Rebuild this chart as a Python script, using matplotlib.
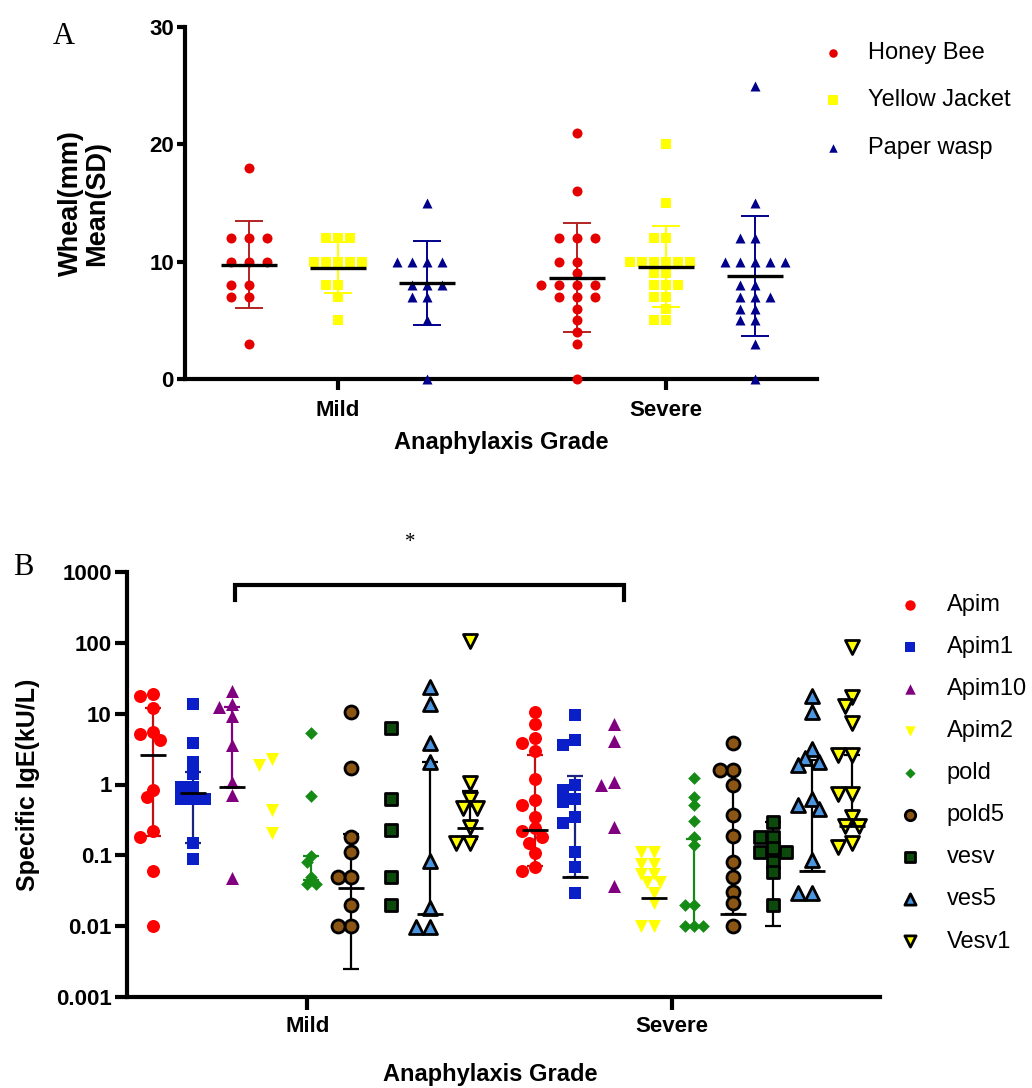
import numpy as np
import matplotlib
matplotlib.use('Agg')
import matplotlib.pyplot as plt

plt.rcParams['font.family'] = ['Liberation Sans', 'DejaVu Sans']

# ---------- panel A : wheal size ----------
grade = ['Mild', 'Severe']
insects = ['Honey Bee', 'Yellow Jacket', 'Paper wasp']
hb_mild = [18, 12, 12, 12, 10, 10, 10, 8, 8, 7, 7, 3]
yj_mild = [12, 12, 12, 10, 10, 10, 10, 10, 8, 8, 7, 5]
pw_mild = [15, 10, 10, 10, 10, 8, 8, 8, 7, 7, 5, 0]
hb_sev = [21, 16, 12, 12, 12, 10, 10, 9, 8, 8, 8, 8, 7, 7, 7, 6, 5, 4, 3, 0]
yj_sev = [20, 15, 12, 12, 10, 10, 10, 10, 10, 10, 9, 9, 8, 8, 8, 7, 7, 6, 5, 5]
pw_sev = [25, 15, 12, 12, 10, 10, 10, 10, 10, 8, 8, 7, 7, 7, 6, 6, 5, 5, 3, 0]

# ---------- panel B : specific IgE ----------
allergens = ['Apim', 'Apim1', 'Apim10', 'Apim2', 'pold', 'pold5', 'vesv', 'ves5', 'Vesv1']
ige_mild = [
    [19, 18, 12, 5.5, 5.2, 4.3, 0.84, 0.66, 0.22, 0.18, 0.06, 0.01],
    [13.6, 3.8, 2.1, 1.4, 0.92, 0.92, 0.63, 0.63, 0.63, 0.15, 0.09],
    [21, 13.9, 12.5, 9.2, 3.6, 1.08, 0.72, 0.048],
    [2.3, 1.9, 0.43, 0.21],
    [5.4, 0.68, 0.099, 0.08, 0.049, 0.04, 0.04],
    [10.6, 1.73, 0.18, 0.11, 0.05, 0.05, 0.02, 0.01, 0.01],
    [6.2, 0.63, 0.23, 0.049, 0.02],
    [24, 13.6, 3.8, 2.1, 0.084, 0.018, 0.0096, 0.0096],
    [105, 1.05, 0.63, 0.47, 0.47, 0.25, 0.15, 0.15],
]
ige_sev = [
    [10.6, 7.2, 4.6, 3.9, 3.0, 1.2, 0.6, 0.52, 0.35, 0.24, 0.22, 0.18, 0.15, 0.107, 0.069, 0.06],
    [9.5, 4.2, 3.6, 1.0, 0.83, 0.63, 0.56, 0.35, 0.29, 0.11, 0.069, 0.029],
    [7.2, 4.1, 1.08, 1.0, 0.25, 0.037],
    [0.11, 0.11, 0.076, 0.076, 0.055, 0.055, 0.042, 0.042, 0.029, 0.021, 0.01, 0.01],
    [1.25, 0.66, 0.51, 0.31, 0.18, 0.138, 0.02, 0.02, 0.01, 0.01, 0.01],
    [3.8, 1.58, 1.58, 0.97, 0.37, 0.19, 0.08, 0.05, 0.03, 0.021, 0.01],
    [0.3, 0.18, 0.18, 0.126, 0.11, 0.11, 0.08, 0.058, 0.02],
    [18, 10.6, 3.2, 2.4, 2.1, 1.86, 0.63, 0.51, 0.45, 0.086, 0.029, 0.029],
    [88, 17, 13, 7.4, 2.6, 2.6, 0.74, 0.74, 0.35, 0.26, 0.26, 0.15, 0.13],
]
# center line and bar ends (nan = not drawn)
nan = np.nan
mid_mild = [2.6, 0.75, 0.93, nan, nan, 0.035, nan, 0.015, 0.24]
lo_mild = [0.19, 0.15, 0.93, nan, 0.045, 0.0025, nan, 0.015, 0.17]
hi_mild = [12, 1.5, 12.5, nan, 0.097, 0.2, nan, 2.1, 0.8]
mid_sev = [0.23, 0.05, nan, 0.025, nan, 0.015, nan, 0.06, 0.26]
lo_sev = [0.07, 0.05, nan, nan, 0.01, 0.015, 0.01, 0.06, 0.26]
hi_sev = [2.6, 1.3, nan, nan, 0.17, 1.5, 0.3, 2.2, 2.6]

ytick_vals = [0.001, 0.01, 0.1, 1, 10, 100, 1000]
ytick_text = ['0.001', '0.01', '0.1', '1', '10', '100', '1000']


def swarm(ax, vals, step, dist):
    vals = np.asarray(vals, dtype=float)
    ys = ax.transData.transform(np.column_stack([np.zeros(len(vals)), vals]))[:, 1]
    px_unit = ax.bbox.width / (ax.get_xlim()[1] - ax.get_xlim()[0])
    placed = []
    offs = np.zeros(len(vals))
    for i in np.argsort(-vals, kind='stable'):
        for k in [0, -1, 1, -2, 2, -3, 3, -4, 4, -5, 5, -6, 6]:
            x = k * step
            if all(np.hypot(x - px, ys[i] - py) >= dist for px, py in placed):
                break
        placed.append((x, ys[i]))
        offs[i] = x / px_unit
    return offs


fig = plt.figure(figsize=(10.32, 10.88), dpi=100)
W, H = 1032, 1088

# ================= A =================
axA = fig.add_axes([185 / W, 1 - 379 / H, 632 / W, 352 / H])
axA.set_xlim(-0.466, 1.46)
axA.set_ylim(0, 30)

a_colors = ['#e50000', '#ffff00', '#00008b']
a_bar = ['#b22222', '#ffff00', '#00008b']
a_markers = ['o', 's', '^']
a_size = [10, 11, 10]
a_step = [18, 12, 15]
a_data = [[hb_mild, yj_mild, pw_mild], [hb_sev, yj_sev, pw_sev]]
off = [-0.2713, 0, 0.2713]

for g in range(2):
    for i in range(3):
        vals = np.array(a_data[g][i], dtype=float)
        x0 = g + off[i]
        dx = swarm(axA, vals, a_step[i], a_size[i] * 0.95)
        m = vals.mean()
        sd = vals.std(ddof=1)
        axA.errorbar(x0, m, yerr=sd, fmt='none', ecolor=a_bar[i], elinewidth=1.4,
                     capsize=10, capthick=1.4, zorder=2)
        axA.scatter(x0 + dx, vals, s=(a_size[i] / 1.389) ** 2, marker=a_markers[i],
                    color=a_colors[i], linewidths=0, zorder=3, clip_on=False,
                    label=insects[i] if g == 0 else None)
        axA.hlines(m, x0 - 0.085, x0 + 0.085, color='black', lw=2.4, zorder=4)

axA.set_xticks([0, 1])
axA.set_xticklabels(grade)
axA.set_yticks([0, 10, 20, 30])
for s in ['top', 'right']:
    axA.spines[s].set_visible(False)
for s in ['left', 'bottom']:
    axA.spines[s].set_linewidth(3)
axA.tick_params(axis='y', length=6, width=3, pad=2, labelsize=16)
axA.tick_params(axis='x', length=8, width=3, pad=7, labelsize=16)
for t in axA.get_xticklabels() + axA.get_yticklabels():
    t.set_fontweight('bold')
axA.set_ylabel('Wheal(mm)\nMean(SD)', fontsize=19.5, fontweight='bold', linespacing=1.0)
axA.yaxis.set_label_coords(-0.119, 0.5)
axA.set_xlabel('Anaphylaxis Grade', fontsize=17, fontweight='bold')
axA.xaxis.set_label_coords(0.5, -0.148)
axA.legend(loc='upper left', bbox_to_anchor=(821 / W, 1 - 42 / H), bbox_transform=fig.transFigure,
           frameon=False, fontsize=17, handlelength=1.0, handletextpad=0.98, labelspacing=1.08,
           borderpad=0, borderaxespad=0, scatterpoints=1, markerscale=0.85)
fig.text(53 / W, 1 - 44 / H, 'A', family='Liberation Serif', fontsize=22)

# ================= B =================
axB = fig.add_axes([127 / W, 1 - 997 / H, 753 / W, 425 / H])
axB.set_yscale('log')
axB.set_ylim(0.001, 1000)
axB.set_xlim(-0.657, 18.36)

b_colors = ['#ff0000', '#0a1fc8', '#800080', '#ffff00', '#158a15',
            '#8b5514', '#0b4a0b', '#4a94e0', '#ffff00']
b_bar = ['#c01010', '#1a237e', '#800080', '#ffff00', '#158a15',
         'black', 'black', 'black', 'black']
b_markers = ['o', 's', '^', 'v', 'D', 'o', 's', '^', 'v']
b_edge = [False, False, False, False, False, True, True, True, True]
b_size = [13, 12, 13, 13, 9, 13, 13, 14, 14]
b_data = [ige_mild, ige_sev]
b_mid = [mid_mild, mid_sev]
b_lo = [lo_mild, lo_sev]
b_hi = [hi_mild, hi_sev]
starts = [0, 9.65]

for g in range(2):
    for i in range(9):
        vals = np.array(b_data[g][i], dtype=float)
        x0 = starts[g] + i
        dx = swarm(axB, vals, b_size[i] * 0.5, b_size[i] * 0.75)
        lo, hi, mid = b_lo[g][i], b_hi[g][i], b_mid[g][i]
        if not np.isnan(lo) and not np.isnan(hi):
            axB.vlines(x0, lo, hi, color=b_bar[i], lw=1.6, zorder=2)
            axB.hlines([lo, hi], x0 - 0.2, x0 + 0.2, color=b_bar[i], lw=1.6, zorder=2)
        if b_edge[i]:
            axB.scatter(x0 + dx, vals, s=(b_size[i] / 1.389) ** 2, marker=b_markers[i],
                        facecolor=b_colors[i], edgecolor='black', linewidths=2.0, zorder=3,
                        label=allergens[i] if g == 0 else None)
        else:
            axB.scatter(x0 + dx, vals, s=(b_size[i] / 1.389) ** 2, marker=b_markers[i],
                        color=b_colors[i], linewidths=0, zorder=3,
                        label=allergens[i] if g == 0 else None)
        if not np.isnan(mid):
            axB.hlines(mid, x0 - 0.33, x0 + 0.33, color='black', lw=2.0, zorder=4)

axB.set_yticks(ytick_vals)
axB.set_yticklabels(ytick_text)
axB.minorticks_off()
axB.set_xticks([3.9, 13.1])
axB.set_xticklabels(grade)
for s in ['top', 'right']:
    axB.spines[s].set_visible(False)
for s in ['left', 'bottom']:
    axB.spines[s].set_linewidth(3)
axB.tick_params(axis='y', length=9, width=3, pad=2, labelsize=16)
axB.tick_params(axis='x', length=9, width=3, pad=5, labelsize=16)
for t in axB.get_xticklabels() + axB.get_yticklabels():
    t.set_fontweight('bold')
axB.set_ylabel('Specific IgE(kU/L)', fontsize=18, fontweight='bold')
axB.yaxis.set_label_coords(-0.1155, 0.5)
axB.set_xlabel('Anaphylaxis Grade', fontsize=17, fontweight='bold', va='center')
axB.xaxis.set_label_coords(0.482, -0.183)

# significance bracket between Apim10 mild and severe
axB.plot([2.07, 2.07, 11.9, 11.9], [400, 650, 650, 400], color='black', lw=3,
         clip_on=False, solid_joinstyle='miter')
axB.text(6.5, 2600, '*', family='Liberation Serif', fontsize=15, ha='center', va='center')

axB.legend(loc='upper left', bbox_to_anchor=(898 / W, 1 - 594 / H), bbox_transform=fig.transFigure,
           frameon=False, fontsize=17, handlelength=1.0, handletextpad=1.07, labelspacing=0.85,
           borderpad=0, borderaxespad=0, scatterpoints=1, markerscale=0.8)
fig.text(13 / W, 1 - 575 / H, 'B', family='Liberation Serif', fontsize=22)

fig.savefig('out.png', dpi=100)
